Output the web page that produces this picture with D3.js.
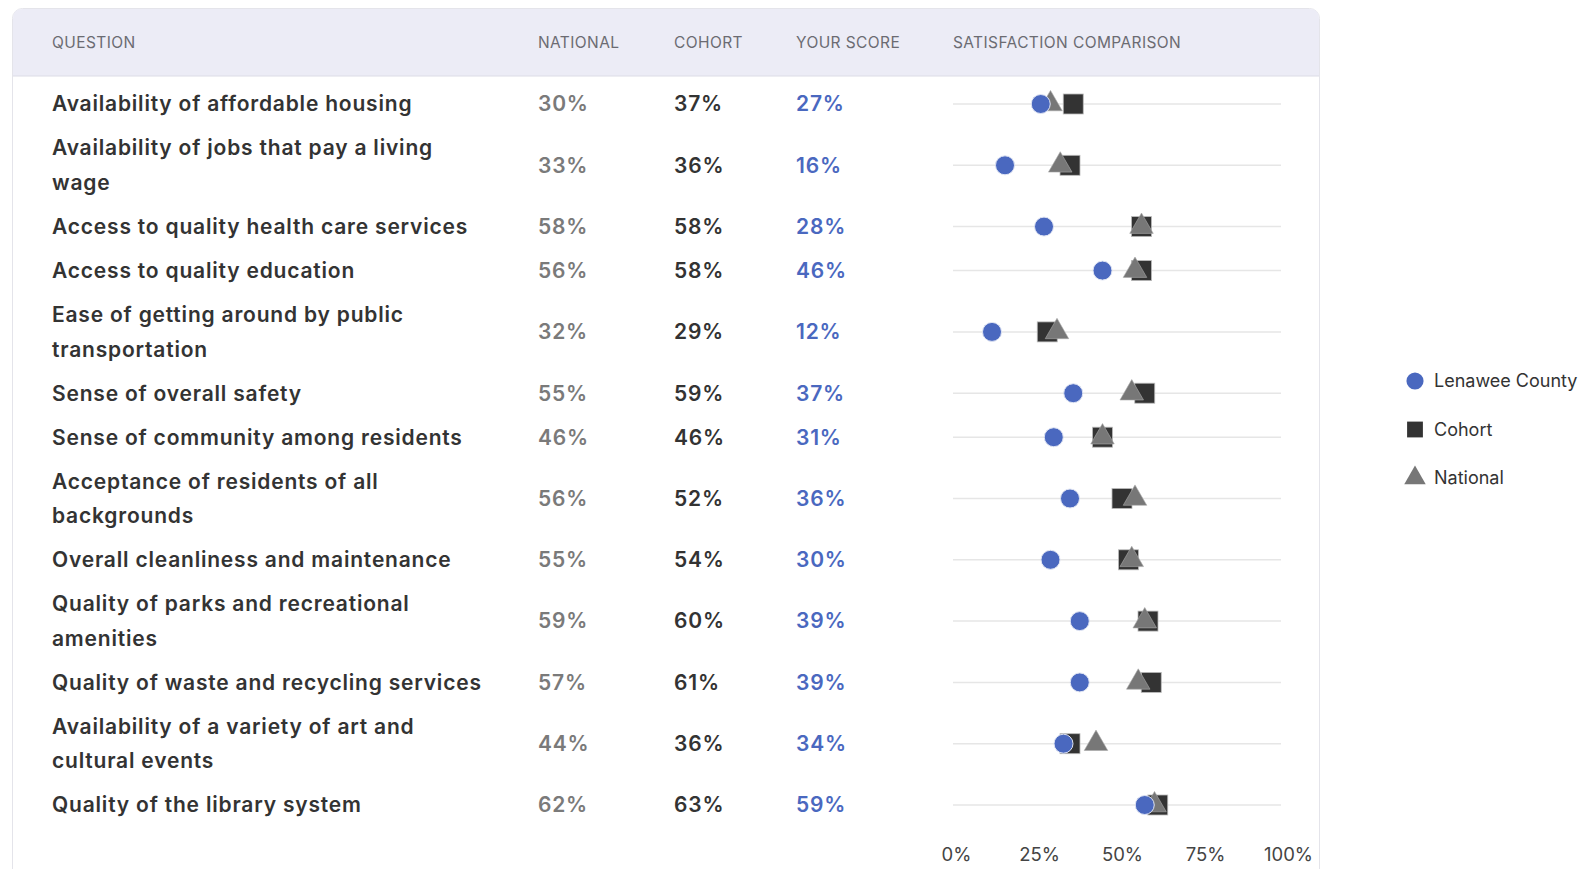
<!DOCTYPE html>
<html>
<head>
<meta charset="utf-8">
<script src="https://cdn.jsdelivr.net/npm/d3@7"></script>
<style>
  body { margin: 0; background: #fff; font-family: Inter, "Noto Sans", sans-serif; }
  svg { display: block; }
</style>
</head>
<body>
<div id="chart"></div>
<script>
var questions = [
  "Availability of affordable housing",
  "Availability of jobs that pay a living wage",
  "Access to quality health care services",
  "Access to quality education",
  "Ease of getting around by public transportation",
  "Sense of overall safety",
  "Sense of community among residents",
  "Acceptance of residents of all backgrounds",
  "Overall cleanliness and maintenance",
  "Quality of parks and recreational amenities",
  "Quality of waste and recycling services",
  "Availability of a variety of art and cultural events",
  "Quality of the library system"
];
var national = [30, 33, 58, 56, 32, 55, 46, 56, 55, 59, 57, 44, 62];
var cohort = [37, 36, 58, 58, 29, 59, 46, 52, 54, 60, 61, 36, 63];
var yourScore = [27, 16, 28, 46, 12, 37, 31, 36, 30, 39, 39, 34, 59];
var headers = ["QUESTION", "NATIONAL", "COHORT", "YOUR SCORE", "SATISFACTION COMPARISON"];
var axisTicks = [0, 25, 50, 75, 100];
var legendLabels = ["Lenawee County", "Cohort", "National"];

var svgWidth = 1584;
var svgHeight = 869;

var colors = { county: "#4a68bf", cohort: "#333333", national: "#777777" };
var rowFont = "21px", rowSpacing = "0.8px";

var svg = d3.select("#chart")
  .append("svg")
  .attr("width", svgWidth)
  .attr("height", svgHeight);

// card
svg.append("rect")
  .attr("x", 12.5).attr("y", 8.5)
  .attr("width", 1307).attr("height", 880)
  .attr("rx", 10)
  .attr("fill", "#fff")
  .attr("stroke", "#e4e4ea");

// header band (rounded top only)
svg.append("path")
  .attr("d", "M13,76 L13,18.5 Q13,9 22.5,9 L1309.5,9 Q1319,9 1319,18.5 L1319,76 Z")
  .attr("fill", "#ececf6");
svg.append("line")
  .attr("x1", 13).attr("x2", 1319).attr("y1", 76).attr("y2", 76)
  .attr("stroke", "#dcdce6");

var colX = [52, 538, 674, 796, 953];
svg.selectAll(".hdr")
  .data(headers)
  .enter()
  .append("text")
  .attr("class", "hdr")
  .attr("x", (d, i) => colX[i])
  .attr("y", 43)
  .attr("dy", "0.35em")
  .attr("font-size", "15.5px")
  .attr("fill", "#6b6b72")
  .attr("letter-spacing", "0.4px")
  .text(d => d);

// wrap the question text to a max width
var measure = svg.append("text")
  .attr("font-size", rowFont).attr("font-weight", 600)
  .attr("letter-spacing", rowSpacing)
  .attr("visibility", "hidden");
function wrap(str, maxW) {
  var words = str.split(" "), lines = [], cur = "";
  words.forEach(function(w) {
    var test = cur ? cur + " " + w : w;
    measure.text(test);
    if (measure.node().getComputedTextLength() > maxW && cur) {
      lines.push(cur);
      cur = w;
    } else {
      cur = test;
    }
  });
  lines.push(cur);
  return lines;
}

var single = 44, lineGap = 34.6;
var rows = questions.map(function(q, i) {
  return { q: q, lines: wrap(q, 442), nat: national[i], coh: cohort[i], score: yourScore[i] };
});
measure.remove();

var rowTop = 82;
rows.forEach(function(r) {
  var h = single + (r.lines.length - 1) * lineGap;
  r.cy = rowTop + h / 2;
  rowTop += h;
});

var x = d3.scaleLinear().domain([0, 100]).range([953, 1278]);
var axisScale = d3.scaleLinear().domain([0, 100]).range([956, 1288]);

var rowG = svg.selectAll(".row")
  .data(rows)
  .enter()
  .append("g")
  .attr("class", "row")
  .attr("transform", d => `translate(0, ${d.cy})`);

rowG.append("text")
  .attr("x", colX[0])
  .attr("font-size", rowFont)
  .attr("letter-spacing", rowSpacing)
  .attr("font-weight", 600)
  .attr("fill", "#333")
  .each(function(d) {
    var t = d3.select(this);
    var n = d.lines.length;
    d.lines.forEach(function(l, k) {
      t.append("tspan")
        .attr("x", colX[0])
        .attr("y", (k - (n - 1) / 2) * lineGap)
        .attr("dy", "0.35em")
        .text(l);
    });
  });

function valueCol(xPos, color, key) {
  rowG.append("text")
    .attr("x", xPos).attr("dy", "0.35em")
    .attr("font-size", rowFont).attr("font-weight", 600)
    .attr("letter-spacing", rowSpacing)
    .attr("fill", color)
    .text(d => d[key] + "%");
}
valueCol(colX[1], "#7a7a7a", "nat");
valueCol(colX[2], "#333", "coh");
valueCol(colX[3], colors.county, "score");

rowG.append("line")
  .attr("x1", 953).attr("x2", 1281)
  .attr("stroke", "#e6e6e6").attr("stroke-width", 1.5);

var sq = 20;
rowG.append("rect")
  .attr("x", d => x(d.coh) - sq / 2)
  .attr("y", -sq / 2)
  .attr("width", sq).attr("height", sq)
  .attr("fill", colors.cohort)
  .attr("stroke", "#bbb").attr("stroke-width", 0.8);

var tri = d3.symbol().type(d3.symbolTriangle).size(240);
rowG.append("path")
  .attr("d", tri)
  .attr("transform", d => `translate(${x(d.nat)}, 0)`)
  .attr("fill", colors.national)
  .attr("stroke", "#aaa").attr("stroke-width", 0.6);

rowG.append("circle")
  .attr("cx", d => x(d.score))
  .attr("r", 9.5)
  .attr("fill", colors.county)
  .attr("stroke", "#dfe4f3").attr("stroke-width", 1);

// axis
var bottomAxis = d3.axisBottom(axisScale)
  .tickValues(axisTicks)
  .tickFormat(d => d + "%")
  .tickSize(0)
  .tickPadding(0);
var axisG = svg.append("g")
  .attr("transform", "translate(0, 848)")
  .call(bottomAxis);
axisG.select(".domain").remove();
axisG.selectAll("text")
  .attr("font-size", "18.5px")
  .attr("font-family", "Inter, 'Noto Sans', sans-serif")
  .attr("fill", "#444");

// legend
var legendShapes = [
  d3.symbol().type(d3.symbolCircle).size(230),
  d3.symbol().type(d3.symbolSquare).size(250),
  d3.symbol().type(d3.symbolTriangle).size(200)
];
var legendColors = [colors.county, colors.cohort, colors.national];
var legend = svg.selectAll(".legend")
  .data(legendLabels)
  .enter()
  .append("g")
  .attr("class", "legend")
  .attr("transform", (d, i) => `translate(1415, ${381 + i * 48.5})`);
legend.append("path")
  .attr("d", (d, i) => legendShapes[i]())
  .attr("fill", (d, i) => legendColors[i]);
legend.append("text")
  .attr("x", 19)
  .attr("dy", "0.35em")
  .attr("font-size", "18px")
  .attr("fill", "#333")
  .text(d => d);
</script>
</body>
</html>
